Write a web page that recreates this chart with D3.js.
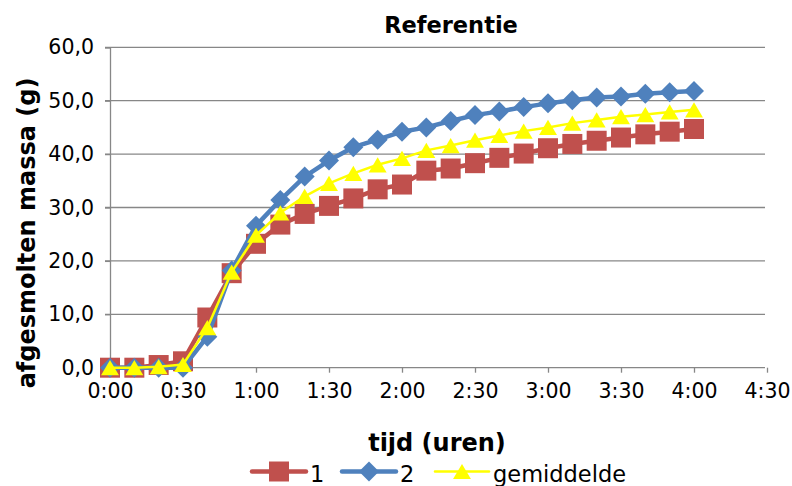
<!DOCTYPE html>
<html>
<head>
<meta charset="utf-8">
<script src="https://cdn.jsdelivr.net/npm/d3@7"></script>
<style>
  body { margin: 0; background: #fff; }
  svg { display: block; font-family: Verdana, 'DejaVu Sans', sans-serif; }
</style>
</head>
<body>
<div class="chart"></div>
<script>
'use strict'
// time in minutes since start
const minutes = [0, 10, 20, 30, 40, 50, 60, 70, 80, 90, 100, 110, 120, 130, 140, 150, 160, 170, 180, 190, 200, 210, 220, 230, 240]
const serie1 = [0.0, 0.0, 0.5, 1.2, 9.4, 17.7, 23.2, 26.8, 28.8, 30.3, 31.7, 33.4, 34.3, 36.9, 37.3, 38.3, 39.3, 40.1, 41.1, 41.9, 42.5, 43.1, 43.7, 44.2, 44.7]
const serie2 = [0.0, 0.0, 0.0, 0.0, 5.8, 18.2, 26.6, 31.4, 35.8, 38.8, 41.3, 42.7, 44.2, 45.0, 46.2, 47.3, 48.0, 48.8, 49.5, 50.1, 50.6, 50.8, 51.3, 51.6, 51.8]
const gemiddelde = [0.0, 0.0, 0.2, 0.6, 7.5, 17.9, 24.8, 29.0, 32.1, 34.5, 36.4, 38.0, 39.2, 40.7, 41.6, 42.6, 43.5, 44.3, 45.0, 45.8, 46.4, 47.0, 47.4, 47.9, 48.3]
const xTicks = [0, 30, 60, 90, 120, 150, 180, 210, 240, 270]
const yTicks = [0, 10, 20, 30, 40, 50, 60]

const series = [
  { name: '1', values: serie1, color: '#C0504D', width: 4.5, marker: 'square' },
  { name: '2', values: serie2, color: '#4F81BD', width: 4.5, marker: 'diamond' },
  { name: 'gemiddelde', values: gemiddelde, color: '#FFFF00', width: 2.5, marker: 'triangle' }
]

const width = 792
const height = 486
const plotLeft = 110
const plotRight = 767
const plotTop = 47.3
const plotBottom = 367.7
const font = 'Verdana, DejaVu Sans, sans-serif'

const x = d3.scaleLinear().domain([0, 270]).range([plotLeft, plotRight])
const y = d3.scaleLinear().domain([0, 60]).range([plotBottom, plotTop])

const svg = d3.select('.chart').append('svg')
  .attr('width', width)
  .attr('height', height)

const fmtTime = function (m) {
  return Math.floor(m / 60) + ':' + d3.format('02')(m % 60)
}
const fmtNum = function (v) {
  return d3.format('.1f')(v).replace('.', ',')
}

// gridlines
svg.append('g').selectAll('line')
  .data(yTicks)
  .enter().append('line')
  .attr('x1', plotLeft - 5)
  .attr('x2', plotRight - 2)
  .attr('y1', function (d) { return y(d) })
  .attr('y2', function (d) { return y(d) })
  .attr('stroke', '#878787')
  .attr('stroke-width', 1.3)

// y axis
const yAxis = svg.append('g')
  .attr('transform', 'translate(' + plotLeft + ',0)')
  .call(d3.axisLeft(y).tickValues(yTicks).tickFormat(fmtNum).tickSize(5).tickPadding(11))
yAxis.select('.domain').attr('stroke', '#878787').attr('stroke-width', 1.3)
yAxis.selectAll('.tick line').attr('stroke', '#878787').attr('stroke-width', 1.3)
yAxis.selectAll('text').attr('font-size', 20.5).attr('fill', '#000')
  .attr('font-family', font)

// x axis
const xAxis = svg.append('g')
  .attr('transform', 'translate(0,' + plotBottom + ')')
  .call(d3.axisBottom(x).tickValues(xTicks).tickFormat(fmtTime).tickSize(5).tickPadding(11))
xAxis.select('.domain').remove()
xAxis.selectAll('.tick line').attr('stroke', '#878787').attr('stroke-width', 1.3)
xAxis.selectAll('text').attr('font-size', 20.5).attr('fill', '#000')
  .attr('font-family', font)

// Excel-like markers: square, square diamond, box-centred triangle
const diamond = {
  draw: function (ctx, size) {
    const r = Math.sqrt(size) / 2
    ctx.moveTo(0, -r)
    ctx.lineTo(r, 0)
    ctx.lineTo(0, r)
    ctx.lineTo(-r, 0)
    ctx.closePath()
  }
}
const triangle = {
  draw: function (ctx, size) {
    const w = Math.sqrt(size)
    const h = w * 0.85
    ctx.moveTo(0, -h / 2)
    ctx.lineTo(w / 2, h / 2)
    ctx.lineTo(-w / 2, h / 2)
    ctx.closePath()
  }
}
const symbolFor = function (marker) {
  if (marker === 'square') return d3.symbol().type(d3.symbolSquare).size(400)
  if (marker === 'diamond') return d3.symbol().type(diamond).size(400)
  return d3.symbol().type(triangle).size(320)
}

const line = d3.line()
  .x(function (d) { return x(d[0]) })
  .y(function (d) { return y(d[1]) })

series.forEach(function (s) {
  const pts = minutes.map(function (m, i) { return [m, s.values[i]] })
  const g = svg.append('g')
  g.append('path')
    .datum(pts)
    .attr('d', line)
    .attr('fill', 'none')
    .attr('stroke', s.color)
    .attr('stroke-width', s.width)
    .attr('stroke-linejoin', 'round')
  g.selectAll('path.marker')
    .data(pts)
    .enter().append('path')
    .attr('class', 'marker')
    .attr('d', symbolFor(s.marker))
    .attr('transform', function (d) {
      return 'translate(' + x(d[0]) + ',' + y(d[1]) + ')'
    })
    .attr('fill', s.color)
})

// title
svg.append('text')
  .attr('x', 451)
  .attr('y', 33)
  .attr('text-anchor', 'middle')
  .attr('font-size', 22.5)
  .attr('font-weight', 'bold')
  .text('Referentie')

// axis titles
svg.append('text')
  .attr('transform', 'translate(35,233) rotate(-90)')
  .attr('text-anchor', 'middle')
  .attr('font-size', 24)
  .attr('font-weight', 'bold')
  .text('afgesmolten massa (g)')

svg.append('text')
  .attr('x', 437)
  .attr('y', 451)
  .attr('text-anchor', 'middle')
  .attr('font-size', 24)
  .attr('font-weight', 'bold')
  .text('tijd (uren)')

// legend
const legendX = [252, 342, 435]
const legend = svg.append('g')
series.forEach(function (s, i) {
  const g = legend.append('g').attr('transform', 'translate(' + legendX[i] + ',471.5)')
  g.append('line')
    .attr('x1', 0).attr('x2', 54)
    .attr('stroke', s.color)
    .attr('stroke-width', s.width)
    .attr('stroke-linecap', 'round')
  g.append('path')
    .attr('d', symbolFor(s.marker))
    .attr('transform', 'translate(27,0)')
    .attr('fill', s.color)
  g.append('text')
    .attr('x', 58)
    .attr('y', 10)
    .attr('font-size', 22.5)
    .text(s.name)
})
</script>
</body>
</html>
